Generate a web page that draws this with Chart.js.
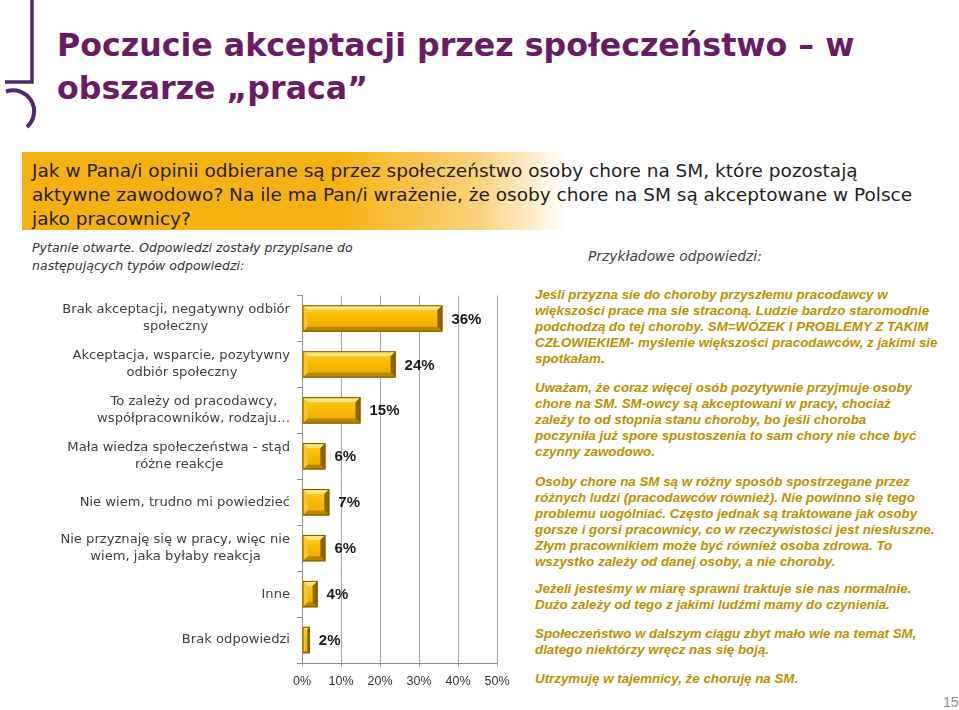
<!DOCTYPE html>
<html><head><meta charset="utf-8">
<script src="https://cdn.jsdelivr.net/npm/chart.js@4/dist/chart.umd.min.js"></script>
<style>
html,body{margin:0;padding:0;background:#fff;}
body{width:959px;height:710px;position:relative;overflow:hidden;font-family:'DejaVu Sans',sans-serif;}
#qbox{position:absolute;left:22px;top:152px;width:545px;height:78px;background:linear-gradient(to right,#F6B012 0%,#F6B214 58%,#FAD27E 84%,#ffffff 100%);}
#chartWrap{position:absolute;left:60px;top:280px;width:460px;height:420px;}
.txt{position:absolute;white-space:nowrap;}
</style></head><body>
<svg style="position:absolute;left:0;top:0" width="60" height="135">
  <path d="M32 0 V82 H5" stroke="#4F2A6B" stroke-width="3.5" fill="none"/>
  <path d="M6 91.5 A21 21 0 0 1 27 127" stroke="#4F2A6B" stroke-width="4" fill="none"/>
</svg>
<div id="qbox"></div>
<div id="chartWrap"><canvas id="c" width="460" height="420"></canvas></div>
<script>
// ---- data ----
const categories = [
  ["Brak akceptacji, negatywny odbiór", "społeczny"],
  ["Akceptacja, wsparcie, pozytywny", "odbiór społeczny"],
  ["To zależy od pracodawcy,", "współpracowników, rodzaju…"],
  ["Mała wiedza społeczeństwa - stąd", "różne reakcje"],
  ["Nie wiem, trudno mi powiedzieć"],
  ["Nie przyznaję się w pracy, więc nie", "wiem, jaka byłaby reakcja"],
  ["Inne"],
  ["Brak odpowiedzi"]
];
const values = [36, 24, 15, 6, 7, 6, 4, 2];
const xTickLabels = ["0%", "10%", "20%", "30%", "40%", "50%"];

const titleLines = ["Poczucie akceptacji przez społeczeństwo – w", "obszarze „praca”"];
const questionLines = [
  "Jak w Pana/i opinii odbierane są przez społeczeństwo osoby chore na SM, które pozostają",
  "aktywne zawodowo? Na ile ma Pan/i wrażenie, że osoby chore na SM są akceptowane w Polsce",
  "jako pracownicy?"
];
const noteLines = ["Pytanie otwarte. Odpowiedzi zostały przypisane do", "następujących typów odpowiedzi:"];
const exampleHeader = ["Przykładowe odpowiedzi:"];
const quoteLines = [
  "Jeśli przyzna sie do choroby przyszłemu pracodawcy w",
  "większości prace ma sie straconą. Ludzie bardzo staromodnie",
  "podchodzą do tej choroby. SM=WÓZEK I PROBLEMY Z TAKIM",
  "CZŁOWIEKIEM- myślenie większości pracodawców, z jakimi sie",
  "spotkałam.",
  "Uważam, że coraz więcej osób pozytywnie przyjmuje osoby",
  "chore na SM. SM-owcy są akceptowani w pracy, chociaż",
  "zależy to od stopnia stanu choroby, bo jeśli choroba",
  "poczyniła już spore spustoszenia to sam chory nie chce być",
  "czynny zawodowo.",
  "Osoby chore na SM są w różny sposób spostrzegane przez",
  "różnych ludzi (pracodawców również). Nie powinno się tego",
  "problemu uogólniać. Często jednak są traktowane jak osoby",
  "gorsze i gorsi pracownicy, co w rzeczywistości jest niesłuszne.",
  "Złym pracownikiem może być również osoba zdrowa. To",
  "wszystko zależy od danej osoby, a nie choroby.",
  "Jeżeli jesteśmy w miarę sprawni traktuje sie nas normalnie.",
  "Dużo zależy od tego z jakimi ludźmi mamy do czynienia.",
  "Społeczeństwo w dalszym ciągu zbyt mało wie na temat SM,",
  "dlatego niektórzy wręcz nas się boją.",
  "Utrzymuję w tajemnicy, że choruję na SM."
];
const pageNumber = "15";

// ---- text layout helpers ----
function block(lines, o) {
  const spans = lines.map(t => {
    const s = document.createElement('span');
    s.className = 'txt';
    s.textContent = t;
    s.style.fontFamily = o.font;
    s.style.fontWeight = o.weight || 400;
    s.style.fontStyle = o.style || 'normal';
    s.style.color = o.color;
    s.style.left = o.x + 'px';
    s.style.fontSize = '100px';
    s.style.lineHeight = '100px';
    document.body.appendChild(s);
    return s;
  });
  let fs = o.size || 14;
  if (o.w) {
    const idx = o.fit != null ? o.fit : 0;
    const w = spans[idx].getBoundingClientRect().width;
    fs = 100 * o.w / w;
  }
  spans.forEach((s, i) => {
    s.style.fontSize = fs + 'px';
    s.style.lineHeight = fs + 'px';
    s.style.top = (o.base[i] - 0.846 * fs) + 'px';
  });
  return fs;
}

block(titleLines, {font: "'DejaVu Sans'", weight: 700, color: '#6A1B63', x: 57, base: [57, 100], w: 798, fit: 0});
block(questionLines, {font: "'DejaVu Sans'", color: '#1f1f1f', x: 32, base: [178, 202, 226], w: 881, fit: 1});
block(noteLines, {font: "'DejaVu Sans'", style: 'italic', color: '#333', x: 32, base: [253, 271], w: 321, fit: 0});
block(exampleHeader, {font: "'DejaVu Sans'", style: 'italic', color: '#444', x: 588, base: [262], w: 174, fit: 0});
const qb = [299,315,331,347,363, 392,408,424,440,456, 486,502,518,534,550,566, 593,609, 638,654, 683];
block(quoteLines, {font: "'Liberation Sans'", weight: 700, style: 'italic', color: '#BC9000', x: 535, base: qb, w: 400, fit: 13});
block([pageNumber], {font: "'Liberation Sans'", color: '#8c8c8c', x: 943, base: [707], size: 14});

// ---- chart ----
const mctx = document.createElement('canvas').getContext('2d');
mctx.font = "100px 'DejaVu Sans'";
const yFs = 100 * 228 / mctx.measureText(categories[0][0]).width;
const yFont = yFs + "px 'DejaVu Sans'";
mctx.font = yFont;
function centerLines(lines) {
  const ws = lines.map(t => mctx.measureText(t).width);
  const maxW = Math.max(...ws);
  const sp = mctx.measureText(' ').width;
  const hs = mctx.measureText('\u200A').width;
  return lines.map((t, i) => {
    const pad = (maxW - ws[i]) / 2;
    if (pad < 1) return t;
    const n = Math.floor(pad / sp);
    const rem = pad - n * sp;
    const k = hs > 0.3 ? Math.round(rem / hs) : 0;
    return t + ' '.repeat(n) + '\u200A'.repeat(k);
  });
}
const yLabels = categories.map(c => c.length > 1 ? centerLines(c) : c[0]);

const bevel = {
  id: 'bevel',
  afterDatasetsDraw(chart) {
    const ctx = chart.ctx;
    const meta = chart.getDatasetMeta(0);
    const poly = (pts, col) => {
      ctx.beginPath(); ctx.moveTo(pts[0][0], pts[0][1]);
      for (let k = 1; k < pts.length; k++) ctx.lineTo(pts[k][0], pts[k][1]);
      ctx.closePath(); ctx.fillStyle = col; ctx.fill();
    };
    ctx.save();
    meta.data.forEach((bar, i) => {
      const p = bar.getProps(['x', 'y', 'base', 'height'], true);
      const l = Math.min(p.base, p.x), r = Math.max(p.base, p.x);
      const t = p.y - p.height / 2, B = p.y + p.height / 2;
      const w = r - l, h = B - t;
      const b = Math.min(5, w / 3, h / 3);
      const g = ctx.createLinearGradient(0, t, 0, B);
      g.addColorStop(0, '#FFCF2E'); g.addColorStop(0.5, '#F7B900'); g.addColorStop(1, '#EBAA00');
      ctx.fillStyle = g; ctx.fillRect(l + b, t + b, w - 2 * b, h - 2 * b);
      poly([[l, t], [r, t], [r - b, t + b], [l + b, t + b]], '#FFE37A');
      poly([[l, B], [r, B], [r - b, B - b], [l + b, B - b]], '#B68600');
      poly([[r, t], [r, B], [r - b, B - b], [r - b, t + b]], '#8C6500');
      poly([[l, t], [l, B], [l + b, B - b], [l + b, t + b]], '#F8C833');
      ctx.strokeStyle = '#7A5800'; ctx.lineWidth = 1;
      ctx.strokeRect(l + 0.5, t + 0.5, w - 1, h - 1);
      ctx.fillStyle = '#1a1a1a';
      ctx.font = "bold 15px 'Liberation Sans'";
      ctx.textBaseline = 'middle'; ctx.textAlign = 'left';
      ctx.fillText(values[i] + '%', r + 9, p.y + 1);
    });
    ctx.restore();
  }
};

new Chart(document.getElementById('c'), {
  type: 'bar',
  data: {
    labels: categories,
    datasets: [{data: values, backgroundColor: '#F5B700', borderWidth: 0, barPercentage: 0.575, categoryPercentage: 1}]
  },
  options: {
    indexAxis: 'y', responsive: false, animation: false, devicePixelRatio: 1,
    layout: {padding: {top: 7, right: 23, bottom: 7, left: 0}},
    plugins: {legend: {display: false}, tooltip: {enabled: false}},
    scales: {
      x: {
        min: 0, max: 50,
        ticks: {stepSize: 10, callback: (v, i) => xTickLabels[i], font: {family: 'Liberation Sans', size: 12.5}, color: '#333', padding: 7, maxRotation: 0},
        grid: {color: '#a6a6a6', tickLength: 4},
        border: {color: '#8c8c8c'},
        afterFit: s => { s.height = 30; }
      },
      y: {
        ticks: {callback: (v, i) => yLabels[i], font: {family: 'DejaVu Sans', size: yFs, lineHeight: 17 / yFs}, color: '#404040', padding: 7, autoSkip: false},
        grid: {drawOnChartArea: false, tickLength: 5, color: '#8c8c8c', offset: true},
        border: {color: '#8c8c8c'},
        afterFit: s => { s.width = 242; }
      }
    }
  },
  plugins: [bevel]
});
</script>
</body></html>
